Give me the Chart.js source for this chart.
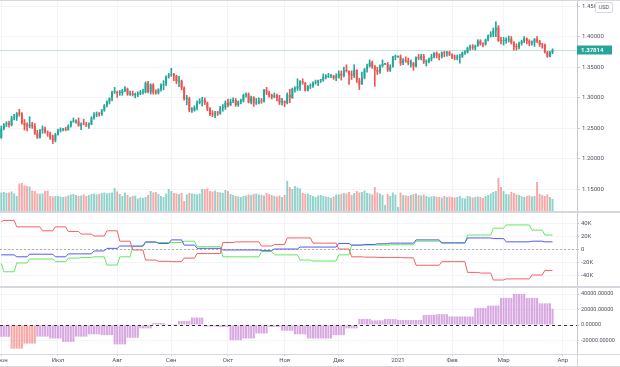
<!DOCTYPE html>
<html>
<head>
<meta charset="utf-8">
<script src="https://cdn.jsdelivr.net/npm/chart.js@4.4.1/dist/chart.umd.min.js"></script>
<style>
  html, body { margin: 0; padding: 0; background: #fff; }
  #wrap { position: relative; width: 620px; height: 367px; overflow: hidden; font-family: Roboto, sans-serif; }
  #wrap canvas { position: absolute; left: 0; }
  .sep { position: absolute; background: #d6d8de; }
  #usd { position: absolute; left: 595px; top: 2px; width: 16px; height: 9px; border: 1px solid #d6d8de; border-radius: 2px;
         background: #fff; font-size: 5.5px; line-height: 9px; text-align: center; color: #4f5260; }
</style>
</head>
<body>
<div id="wrap">
  <canvas id="price" width="620" height="210" style="top:1px"></canvas>
  <canvas id="cot" width="620" height="73" style="top:213px"></canvas>
  <canvas id="hist" width="620" height="79" style="top:288px"></canvas>
  <div class="sep" style="left:0;top:0;width:620px;height:1px"></div>
  <div class="sep" style="left:0;top:211px;width:620px;height:2px"></div>
  <div class="sep" style="left:0;top:286px;width:620px;height:2px"></div>
  <div class="sep" style="left:0;top:354px;width:620px;height:1px"></div>
  <div class="sep" style="left:577px;top:354px;width:1px;height:13px"></div>
  <div class="sep" style="left:0;top:366px;width:620px;height:1px"></div>
  <div id="usd">USD</div>
</div>
<script>
// GBP/USD daily, 1 Jun 2020 - 26 Mar 2021 (one line per month)
const open = [
  1.2348,1.2497,1.2565,1.2585,1.2557,1.2669,1.2676,1.2742,1.2739,1.2588,1.2550,1.2538,1.2560,1.2545,1.2418,1.2351,1.2475,1.2491,1.2431,1.2416,1.2337,1.2305,
  1.2401,1.2466,1.2472,1.2485,1.2477,1.2541,1.2610,1.2614,1.2619,1.2542,1.2575,1.2567,1.2550,1.2566,1.2673,1.2722,1.2739,1.2731,1.2793,1.2877,1.2941,1.2991,1.3093,
  1.3095,1.3077,1.3078,1.3116,1.3148,1.3056,1.3070,1.3046,1.3047,1.3065,1.3087,1.3090,1.3240,1.3096,1.3215,1.3090,1.3082,1.3136,1.3209,1.3221,1.3352,
  1.3371,1.3382,1.3354,1.3266,1.3279,1.3160,1.2977,1.2990,1.2794,1.2797,1.2845,1.2915,1.2947,1.2964,1.2917,1.2820,1.2730,1.2728,1.2752,1.2746,1.2831,1.2843,
  1.2920,1.2880,1.2940,1.2965,1.2882,1.2938,1.2945,1.3045,1.3056,1.2925,1.3009,1.2908,1.2915,1.2951,1.2943,1.3125,1.3088,1.3042,1.3016,1.3042,1.2993,1.2923,
  1.2945,1.2915,1.3052,1.3000,1.3147,1.3150,1.3188,1.3270,1.3244,1.3116,1.3191,1.3192,1.3245,1.3252,1.3283,1.3287,1.3339,1.3343,1.3359,1.3361,1.3325,
  1.3329,1.3394,1.3363,1.3447,1.3438,1.3377,1.3364,1.3454,1.3281,1.3222,1.3331,1.3462,1.3513,1.3578,1.3512,1.3452,1.3419,1.3520,1.3553,1.3553,1.3454,1.3506,1.3669,
  1.3672,1.3672,1.3567,1.3612,1.3605,1.3563,1.3565,1.3515,1.3667,1.3646,1.3681,1.3584,1.3591,1.3637,1.3665,1.3732,1.3688,1.3674,1.3738,1.3727,1.3742,
  1.3707,1.3674,1.3654,1.3657,1.3673,1.3737,1.3743,1.3812,1.3833,1.3822,1.3849,1.3929,1.3879,1.3873,1.3949,1.4012,1.4037,1.4094,1.4148,1.3928,
  1.3926,1.3927,1.3952,1.3962,1.3900,1.3835,1.3828,1.3886,1.3923,1.3968,1.3929,1.3885,1.3902,1.3957,1.3925,1.3869,1.3867,1.3748,1.3670,1.3744,
];
const high = [
  1.2540,1.2580,1.2610,1.2620,1.2700,1.2730,1.2760,1.2812,1.2760,1.2645,1.2590,1.2690,1.2600,1.2580,1.2470,1.2480,1.2540,1.2520,1.2460,1.2440,1.2390,1.2420,
  1.2490,1.2510,1.2500,1.2520,1.2560,1.2620,1.2670,1.2640,1.2670,1.2590,1.2650,1.2600,1.2590,1.2690,1.2760,1.2770,1.2760,1.2810,1.2890,1.2950,1.3000,1.3110,1.3170,
  1.3110,1.3120,1.3140,1.3185,1.3160,1.3110,1.3110,1.3080,1.3100,1.3120,1.3140,1.3260,1.3270,1.3230,1.3230,1.3130,1.3150,1.3230,1.3280,1.3360,1.3400,
  1.3482,1.3400,1.3370,1.3350,1.3290,1.3180,1.3040,1.3010,1.2840,1.2870,1.2950,1.2985,1.3010,1.3000,1.2930,1.2840,1.2790,1.2780,1.2780,1.2860,1.2890,1.2950,
  1.2980,1.2980,1.3000,1.2990,1.2950,1.2980,1.3060,1.3080,1.3080,1.3030,1.3020,1.2990,1.3000,1.2990,1.3140,1.3170,1.3110,1.3060,1.3080,1.3060,1.3040,1.2990,
  1.2950,1.3080,1.3140,1.3160,1.3180,1.3310,1.3280,1.3310,1.3250,1.3200,1.3230,1.3260,1.3290,1.3290,1.3300,1.3390,1.3380,1.3400,1.3380,1.3370,1.3390,
  1.3440,1.3440,1.3500,1.3540,1.3440,1.3440,1.3540,1.3460,1.3320,1.3420,1.3480,1.3550,1.3620,1.3600,1.3530,1.3500,1.3540,1.3620,1.3560,1.3580,1.3540,1.3680,1.3700,
  1.3680,1.3700,1.3640,1.3670,1.3650,1.3620,1.3580,1.3670,1.3710,1.3710,1.3710,1.3620,1.3650,1.3710,1.3740,1.3750,1.3720,1.3750,1.3760,1.3760,1.3760,
  1.3720,1.3700,1.3700,1.3710,1.3750,1.3770,1.3830,1.3860,1.3870,1.3860,1.3950,1.3950,1.3900,1.3960,1.4030,1.4080,1.4140,1.4241,1.4180,1.3990,
  1.3990,1.3980,1.4010,1.4000,1.3920,1.3880,1.3910,1.3940,1.4000,1.3980,1.3950,1.3930,1.3970,1.4000,1.3940,1.3890,1.3880,1.3760,1.3760,1.3800,
];
const low = [
  1.2336,1.2474,1.2530,1.2520,1.2540,1.2640,1.2630,1.2700,1.2570,1.2474,1.2460,1.2510,1.2500,1.2400,1.2335,1.2340,1.2420,1.2420,1.2370,1.2320,1.2252,1.2280,
  1.2390,1.2440,1.2460,1.2460,1.2470,1.2520,1.2600,1.2580,1.2535,1.2480,1.2560,1.2530,1.2500,1.2560,1.2650,1.2690,1.2700,1.2710,1.2780,1.2850,1.2900,1.2950,1.3070,
  1.3005,1.3040,1.3040,1.3100,1.3040,1.3040,1.3030,1.3000,1.3020,1.3050,1.3060,1.3080,1.3080,1.3060,1.3060,1.3060,1.3060,1.3110,1.3130,1.3200,1.3320,
  1.3350,1.3280,1.3230,1.3180,1.3130,1.2960,1.2885,1.2770,1.2760,1.2780,1.2800,1.2900,1.2865,1.2890,1.2790,1.2710,1.2690,1.2676,1.2710,1.2730,1.2780,1.2810,
  1.2850,1.2870,1.2920,1.2860,1.2860,1.2900,1.2930,1.3010,1.2915,1.2900,1.2860,1.2890,1.2900,1.2910,1.2930,1.3050,1.3010,1.2980,1.3000,1.2950,1.2890,1.2880,
  1.2855,1.2900,1.2920,1.2990,1.3090,1.3120,1.3120,1.3220,1.3110,1.3110,1.3150,1.3170,1.3220,1.3200,1.3250,1.3270,1.3310,1.3330,1.3330,1.3300,1.3280,
  1.3320,1.3290,1.3340,1.3420,1.3220,1.3300,1.3330,1.3250,1.3135,1.3220,1.3310,1.3420,1.3500,1.3480,1.3188,1.3380,1.3400,1.3500,1.3540,1.3430,1.3430,1.3500,1.3620,
  1.3660,1.3530,1.3540,1.3580,1.3540,1.3500,1.3450,1.3500,1.3620,1.3620,1.3560,1.3520,1.3570,1.3600,1.3650,1.3650,1.3620,1.3650,1.3670,1.3680,1.3690,
  1.3640,1.3620,1.3620,1.3566,1.3660,1.3710,1.3730,1.3780,1.3790,1.3780,1.3840,1.3860,1.3830,1.3860,1.3930,1.3990,1.4000,1.4000,1.3920,1.3880,
  1.3860,1.3890,1.3910,1.3880,1.3780,1.3780,1.3800,1.3860,1.3900,1.3880,1.3850,1.3860,1.3840,1.3900,1.3840,1.3810,1.3730,1.3660,1.3670,1.3720,
];
const close = [
  1.2497,1.2565,1.2585,1.2557,1.2669,1.2676,1.2742,1.2739,1.2588,1.2550,1.2538,1.2560,1.2545,1.2418,1.2351,1.2475,1.2491,1.2431,1.2416,1.2337,1.2305,1.2401,
  1.2466,1.2472,1.2485,1.2477,1.2541,1.2610,1.2614,1.2619,1.2542,1.2575,1.2567,1.2550,1.2566,1.2673,1.2722,1.2739,1.2731,1.2793,1.2877,1.2941,1.2991,1.3093,1.3095,
  1.3077,1.3078,1.3116,1.3148,1.3056,1.3070,1.3046,1.3047,1.3065,1.3087,1.3090,1.3240,1.3096,1.3215,1.3090,1.3082,1.3136,1.3209,1.3221,1.3352,1.3371,
  1.3382,1.3354,1.3266,1.3279,1.3160,1.2977,1.2990,1.2794,1.2797,1.2845,1.2915,1.2947,1.2964,1.2917,1.2820,1.2730,1.2728,1.2752,1.2746,1.2831,1.2843,1.2920,
  1.2880,1.2940,1.2965,1.2882,1.2938,1.2945,1.3045,1.3056,1.2925,1.3009,1.2908,1.2915,1.2951,1.2943,1.3125,1.3088,1.3042,1.3016,1.3042,1.2993,1.2923,1.2945,
  1.2915,1.3052,1.3000,1.3147,1.3150,1.3188,1.3270,1.3244,1.3116,1.3191,1.3192,1.3245,1.3252,1.3283,1.3287,1.3339,1.3343,1.3359,1.3361,1.3325,1.3329,
  1.3394,1.3363,1.3447,1.3438,1.3377,1.3364,1.3454,1.3281,1.3222,1.3331,1.3462,1.3513,1.3578,1.3512,1.3452,1.3419,1.3520,1.3553,1.3553,1.3454,1.3506,1.3669,1.3672,
  1.3672,1.3567,1.3612,1.3605,1.3563,1.3565,1.3515,1.3667,1.3646,1.3681,1.3584,1.3591,1.3637,1.3665,1.3732,1.3688,1.3674,1.3738,1.3727,1.3742,1.3707,
  1.3674,1.3654,1.3657,1.3673,1.3737,1.3743,1.3812,1.3833,1.3822,1.3849,1.3929,1.3879,1.3873,1.3949,1.4012,1.4037,1.4094,1.4148,1.3928,1.3926,
  1.3927,1.3952,1.3962,1.3900,1.3835,1.3828,1.3886,1.3923,1.3968,1.3929,1.3885,1.3902,1.3957,1.3925,1.3869,1.3867,1.3748,1.3670,1.3744,1.37814,
];
// tick volume, thousands
const volume = [
  185,190,180,185,195,175,150,275,280,255,250,245,205,200,175,170,175,200,205,150,145,150,
  150,145,140,145,155,165,170,160,150,155,165,150,160,170,175,165,170,180,185,175,180,185,230,
  195,170,150,185,160,140,150,155,125,135,130,140,160,200,185,190,170,150,140,175,220,
  200,180,175,170,180,100,165,180,175,170,165,175,220,215,225,200,195,205,190,185,180,210,
  200,170,160,150,145,140,150,155,165,160,170,175,165,160,155,180,170,160,150,145,155,140,
  160,300,240,220,250,235,225,180,170,175,160,150,140,155,160,150,145,140,130,145,165,
  165,170,180,175,190,160,180,200,185,190,205,180,175,165,240,185,175,160,60,170,150,185,165,
  40,185,160,155,150,160,170,175,160,155,165,150,140,145,150,145,140,135,150,140,145,
  140,135,140,150,130,125,150,145,135,140,145,140,130,150,160,175,190,200,330,240,
  200,170,165,190,180,165,160,150,140,150,155,145,150,290,170,160,150,165,140,120,
];

// weekly positioning (first value = week before the chart), one per Tuesday
const cotRed = [42000,44000,34000,34000,28000,34000,27000,23000,20000,28000,12000,-1500,-17000,-19000,-19500,-14000,-7000,-7000,
  10000,11000,11000,4600,7000,17000,17000,9000,9000,0,-12000,-12500,-13000,-13000,-13500,-25000,-25000,-19500,-19500,
  -36000,-37000,-47700,-46000,-46000,-40000,-33000];
const cotBlue = [-9000,-9000,-12000,-8000,-8000,-12000,-7500,-7500,-3000,1000,4600,4600,11000,8500,14000,6000,1000,1000,
  -1500,-1500,-1500,-2500,0,0,3000,3000,3000,8500,6000,7000,8000,9000,9000,14000,14000,9500,9500,
  17000,17000,16000,11000,11000,12000,11000];
const cotGreen = [-22000,-35000,-21500,-15400,-15400,-19500,-14000,-13000,-12000,-24600,-12000,3600,10000,10000,10000,12000,3600,3600,
  -12000,-12000,-12000,-4000,-9000,-9000,-17000,-18500,-18500,-9000,6000,6000,6000,6500,6500,12000,12000,9000,9000,
  21500,21500,32000,37000,37000,29000,21500];
// weekly histogram, one per Friday release (first value = week before)
const histWeekly = [-15200,-30500,-24000,-15000,-17400,-21800,-15000,-12000,-13000,-25000,-16500,-4400,2600,1000,5200,9600,
  -2000,-2600,-19600,-17400,-11000,-2600,-7400,-12000,-17400,-17400,-13000,-4400,7800,6000,7800,6500,6500,
  13000,14000,11000,11000,21800,25000,35000,40000,35000,28000,21000];
const HIST_PINK_WEEKS = [1, 2];

const MONTH_LABELS = ['Июн', 'Июл', 'Авг', 'Сен', 'Окт', 'Ноя', 'Дек', '2021', 'Фев', 'Мар', 'Апр'];
const PRICE_TICKS = [1.15, 1.20, 1.25, 1.30, 1.35, 1.40, 1.45];
const COT_TICKS = [40000, 20000, 0, -20000, -40000];
const HIST_TICKS = [40000, 20000, 0, -20000];

const UP = '#26a69a';
const DOWN = '#ef5350';
const GRID = '#f3f4f9';
const AXIS = '#c8cad0';
const TEXT = '#4f5260';
const FONT = 'Roboto';

// weekday slots: data plus some empty space on the right
const N_SLOTS = 224;
const days = [];
for (let t = Date.UTC(2020, 5, 1); days.length < N_SLOTS; t += 86400000) {
  const wd = new Date(t).getUTCDay();
  if (wd !== 0 && wd !== 6) days.push(new Date(t).toISOString().slice(0, 10));
}
const N = close.length;
const last = close[N - 1];

// first slot of each month gets a label
const monthTicks = [];
days.forEach((d, i) => {
  if (i === 0 || d.slice(5, 7) !== days[i - 1].slice(5, 7)) monthTicks.push(i);
});
const monthName = {};
monthTicks.forEach((i, k) => { monthName[i] = MONTH_LABELS[k]; });

// weekly series start on these slots
function weekStarts(weekday) {
  const s = [0];
  for (let i = 1; i < N; i++) if (new Date(days[i] + 'T00:00:00Z').getUTCDay() === weekday) s.push(i);
  return s;
}
const tuesdays = weekStarts(2);
const fridays = weekStarts(5);

function stepPoints(values) {
  const pts = [];
  values.forEach((v, j) => {
    const s = tuesdays[j];
    const e = j + 1 < tuesdays.length ? tuesdays[j + 1] - 1 : N - 1;
    pts.push({ x: days[s], y: v });
    if (e > s) pts.push({ x: days[e], y: v });
  });
  return pts;
}

const histDaily = [];
const histWeekOf = [];
histWeekly.forEach((v, j) => {
  const e = j + 1 < fridays.length ? fridays[j + 1] - 1 : N - 1;
  for (let i = fridays[j]; i <= e; i++) { histDaily[i] = v; histWeekOf[i] = j; }
});

const isUp = i => close[i] >= open[i];

function xAxis(labels) {
  return {
    type: 'category',
    offset: true,
    grid: { color: GRID, offset: false, drawTicks: labels, tickLength: 2, tickColor: AXIS },
    border: { display: labels, color: AXIS },
    ticks: {
      display: labels, autoSkip: false, maxRotation: 0, padding: 1,
      color: TEXT, font: { size: 6, family: FONT },
      callback: v => monthName[v] || '',
    },
    afterBuildTicks: s => { s.ticks = monthTicks.map(i => ({ value: i })); },
    afterFit: s => {
      s.paddingLeft = 0;
      s.paddingRight = 0;
      s.height = labels ? 13 : 0;
    },
  };
}

function yAxis(ticks, fmt, min, max, size, tickLen) {
  return {
    position: 'right',
    min, max,
    grid: { color: GRID, tickLength: tickLen, tickColor: AXIS },
    border: { color: AXIS },
    ticks: { color: TEXT, font: { size, family: FONT }, padding: 2, callback: fmt },
    afterBuildTicks: s => { s.ticks = ticks.map(v => ({ value: v })); },
    afterFit: s => { s.width = 43; s.paddingTop = 0; s.paddingBottom = 0; },
  };
}

const base = {
  responsive: false,
  animation: false,
  devicePixelRatio: 1,
  events: [],
  layout: { padding: 0 },
  plugins: { legend: { display: false }, tooltip: { enabled: false } },
};

// last price line + badge
const lastPrice = {
  id: 'lastPrice',
  beforeDatasetsDraw(chart) {
    const { ctx, chartArea: a, scales } = chart;
    const y = Math.round(scales.y.getPixelForValue(last)) + 0.5;
    ctx.save();
    ctx.strokeStyle = 'rgba(38,166,154,0.3)';
    ctx.lineWidth = 1;
    ctx.beginPath(); ctx.moveTo(a.left, y); ctx.lineTo(a.right, y); ctx.stroke();
    ctx.restore();
  },
  afterDraw(chart) {
    const { ctx, chartArea: a, scales } = chart;
    const y = Math.round(scales.y.getPixelForValue(last));
    ctx.save();
    ctx.fillStyle = UP;
    ctx.fillRect(a.right, y - 4.5, 35, 9);
    ctx.fillStyle = '#fff';
    ctx.font = 'bold 6px ' + FONT;
    ctx.textBaseline = 'middle';
    ctx.fillText(last.toFixed(5), a.right + 4, y + 0.5);
    ctx.restore();
  },
};

function zeroLine(color, dash, after) {
  const draw = chart => {
    const { ctx, chartArea: a, scales } = chart;
    const y = Math.round(scales.y.getPixelForValue(0)) + 0.5;
    ctx.save();
    ctx.strokeStyle = color;
    ctx.lineWidth = 1;
    ctx.setLineDash(dash);
    ctx.beginPath(); ctx.moveTo(a.left, y); ctx.lineTo(a.right, y); ctx.stroke();
    ctx.restore();
  };
  return after ? { id: 'zero', afterDatasetsDraw: draw } : { id: 'zero', beforeDatasetsDraw: draw };
}

// price panel: candles + volume
new Chart(document.getElementById('price'), {
  type: 'bar',
  data: {
    labels: days,
    datasets: [
      {
        data: close.map((c, i) => [open[i], c]),
        backgroundColor: c => (isUp(c.dataIndex) ? UP : DOWN),
        barPercentage: 0.75, categoryPercentage: 1, grouped: false, minBarLength: 1, order: 1,
      },
      {
        data: close.map((c, i) => [low[i], high[i]]),
        backgroundColor: c => (isUp(c.dataIndex) ? UP : DOWN),
        barThickness: 1, grouped: false, order: 2,
      },
      {
        data: volume,
        yAxisID: 'yv',
        backgroundColor: c => (isUp(c.dataIndex) ? 'rgba(38,166,154,0.5)' : 'rgba(239,83,80,0.5)'),
        barPercentage: 0.75, categoryPercentage: 1, grouped: false, order: 3,
      },
    ],
  },
  options: {
    ...base,
    scales: {
      x: xAxis(false),
      y: yAxis(PRICE_TICKS, v => v.toFixed(5), 1.11503, 1.45817, 6, 3),
      yv: { display: false, min: 0, max: 2100 },
    },
  },
  plugins: [lastPrice],
});

// positioning lines
new Chart(document.getElementById('cot'), {
  type: 'line',
  data: {
    labels: days,
    datasets: [
      { data: stepPoints(cotRed), borderColor: '#f86060' },
      { data: stepPoints(cotBlue), borderColor: '#5656f0' },
      { data: stepPoints(cotGreen), borderColor: '#62e862' },
    ].map(d => ({ ...d, borderWidth: 1, pointRadius: 0, tension: 0, fill: false })),
  },
  options: {
    ...base,
    scales: {
      x: xAxis(false),
      y: yAxis(COT_TICKS, v => (v === 0 ? '0' : v / 1000 + 'K'), -56923, 55385, 6, 2),
    },
  },
  plugins: [zeroLine('#b0b0b0', [2, 2], false)],
});

// weekly histogram
new Chart(document.getElementById('hist'), {
  type: 'bar',
  data: {
    labels: days,
    datasets: [{
      data: histDaily,
      backgroundColor: c => (HIST_PINK_WEEKS.includes(histWeekOf[c.dataIndex]) ? 'rgba(239,83,80,0.5)' : 'rgba(190,110,205,0.6)'),
      barPercentage: 0.8, categoryPercentage: 1,
    }],
  },
  options: {
    ...base,
    scales: {
      x: xAxis(true),
      y: yAxis(HIST_TICKS, v => v.toFixed(5), -37419, 47742, 5.5, 2),
    },
  },
  plugins: [zeroLine('#333', [3, 3], true)],
});
</script>
</body>
</html>
